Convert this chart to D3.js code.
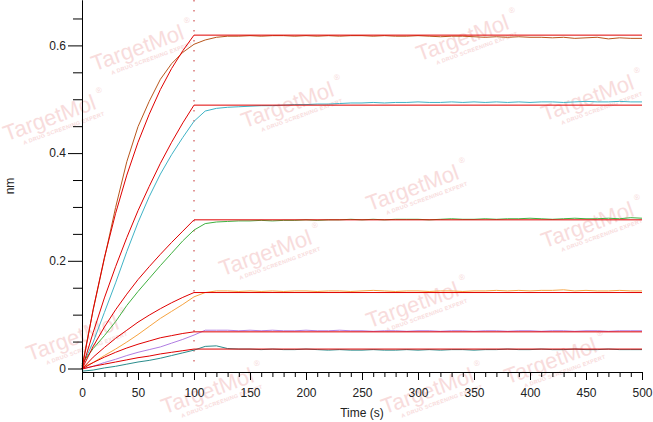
<!DOCTYPE html>
<html><head><meta charset="utf-8">
<script src="https://cdn.jsdelivr.net/npm/d3@7/dist/d3.min.js"></script>
<style>body{margin:0;background:#fff}svg{display:block}</style>
</head><body>
<svg id="c" width="653" height="422"></svg>
<script>
// ---- data ----
const times = [0,10,20,30,40,50,60,70,80,90,100,
  110,120,130,140,150,160,170,180,190,200,
  210,220,230,240,250,260,270,280,290,300,
  310,320,330,340,350,360,370,380,390,400,
  410,420,430,440,450,460,470,480,490,500];

const seriesBrown = [0.005,0.11,0.205,0.30,0.385,0.45,0.497,0.538,0.567,0.588,0.603,
  0.611,0.616,0.618,0.618,0.619,0.618,0.619,0.619,0.618,0.619,
  0.618,0.619,0.618,0.619,0.619,0.618,0.619,0.618,0.618,0.619,
  0.618,0.617,0.618,0.618,0.617,0.616,0.617,0.616,0.617,0.616,
  0.616,0.615,0.616,0.614,0.615,0.616,0.613,0.615,0.614,0.614];
const seriesCyan = [0.005,0.05,0.105,0.16,0.218,0.272,0.32,0.362,0.398,0.43,0.46,
  0.479,0.484,0.486,0.487,0.488,0.489,0.489,0.490,0.491,0.491,
  0.492,0.492,0.493,0.494,0.494,0.495,0.494,0.495,0.495,0.496,
  0.495,0.495,0.496,0.495,0.496,0.495,0.496,0.495,0.496,0.495,
  0.496,0.496,0.495,0.496,0.497,0.496,0.496,0.497,0.496,0.496];
const seriesGreen = [0.01,0.038,0.062,0.088,0.118,0.144,0.168,0.192,0.215,0.238,0.258,
  0.270,0.273,0.274,0.275,0.275,0.276,0.275,0.276,0.276,0.277,
  0.276,0.277,0.277,0.278,0.277,0.278,0.277,0.278,0.278,0.278,
  0.277,0.278,0.279,0.278,0.278,0.279,0.278,0.279,0.279,0.280,
  0.279,0.278,0.279,0.280,0.279,0.279,0.280,0.279,0.281,0.280];
const seriesOrange = [0.003,0.012,0.025,0.037,0.05,0.064,0.079,0.094,0.107,0.12,0.134,
  0.142,0.145,0.145,0.144,0.145,0.144,0.145,0.144,0.145,0.145,
  0.144,0.145,0.145,0.144,0.145,0.146,0.145,0.144,0.145,0.145,
  0.144,0.145,0.145,0.144,0.145,0.145,0.146,0.145,0.146,0.145,
  0.146,0.146,0.147,0.145,0.146,0.145,0.145,0.146,0.145,0.145];
const seriesPurple = [0.0,0.005,0.012,0.018,0.025,0.031,0.036,0.041,0.048,0.055,0.063,
  0.072,0.072,0.072,0.071,0.072,0.071,0.072,0.071,0.071,0.072,
  0.071,0.071,0.072,0.071,0.071,0.070,0.071,0.071,0.070,0.071,
  0.071,0.070,0.071,0.071,0.070,0.071,0.071,0.070,0.071,0.071,
  0.070,0.071,0.071,0.070,0.071,0.071,0.070,0.071,0.071,0.071];
const seriesTeal = [-0.004,-0.002,0.002,0.005,0.009,0.013,0.016,0.02,0.025,0.03,0.035,
  0.042,0.043,0.038,0.037,0.037,0.036,0.037,0.036,0.036,0.037,
  0.036,0.035,0.036,0.035,0.035,0.036,0.035,0.035,0.036,0.035,
  0.036,0.035,0.036,0.036,0.035,0.036,0.036,0.037,0.036,0.036,
  0.037,0.036,0.036,0.037,0.036,0.036,0.037,0.036,0.036,0.036];

const fitTimes = [0,10,20,30,40,50,60,70,80,90,100,500];
const fit1 = [0,0.111,0.207,0.289,0.36,0.421,0.473,0.519,0.558,0.591,0.62,0.62];
const fit2 = [0,0.068,0.132,0.19,0.244,0.294,0.339,0.382,0.421,0.457,0.49,0.49];
const fit3 = [0,0.042,0.078,0.11,0.139,0.166,0.19,0.213,0.235,0.256,0.277,0.277];
const fit4 = [0,0.022,0.04,0.057,0.072,0.087,0.1,0.112,0.123,0.133,0.142,0.142];
const fit5 = [0,0.012,0.022,0.031,0.039,0.046,0.052,0.058,0.062,0.066,0.069,0.069];
const fit6 = [0,0.005,0.009,0.013,0.017,0.021,0.024,0.028,0.031,0.034,0.037,0.037];

const xMajorTicks = [0,50,100,150,200,250,300,350,400,450,500];
const xTickLabels = ["0","50","100","150","200","250","300","350","400","450","500"];
const yMajorTicks = [0,0.2,0.4,0.6];
const yTickLabels = ["0","0.2","0.4","0.6"];
const stepTime = 100;
const xTitle = "Time (s)";
const yTitle = "nm";

// ---- drawing ----
const svg = d3.select("#c");
const font = "'Liberation Sans', Arial, sans-serif";
svg.append("rect").attr("width",653).attr("height",422).attr("fill","#fff");

// watermarks
const wm = [[140,55],[290,112],[465,45],[590,105],[52,125],[268,260],[415,195],[590,232],
            [75,345],[415,312],[553,368],[210,398],[430,398]];
wm.forEach(([cx,cy])=>{
  const g = svg.append("g").attr("transform",`translate(${cx},${cy}) rotate(-20)`)
    .attr("fill","#f8dcdc").attr("font-family",font);
  g.append("text").attr("text-anchor","middle").attr("font-size",22).text("TargetMol");
  g.append("text").attr("x",10).attr("y",9).attr("text-anchor","middle")
    .attr("font-size",5.5).attr("font-weight","bold").attr("letter-spacing",0.3)
    .text("A DRUG SCREENING EXPERT");
  g.append("text").attr("x",53).attr("y",-14).attr("font-size",8).text("®");
});

const x = d3.scaleLinear().domain([0,500]).range([82,642]);
const y = d3.scaleLinear().domain([0,0.6]).range([369,45.9]);
const yTop = y.invert(0), yBot = y.invert(372);
const yAx = d3.scaleLinear().domain([yBot,yTop]).range([372,0]);

// dotted step line
svg.append("line").attr("x1",x(stepTime)).attr("x2",x(stepTime))
  .attr("y1",0).attr("y2",369).attr("stroke","#c43030").attr("stroke-width",1)
  .attr("stroke-dasharray","1.5,8.5");

const line = d3.line().x(d=>x(d[0])).y(d=>y(d[1]));
const dataSeries = [
  [seriesBrown,"#b9561c"],[seriesCyan,"#3fb3c6"],[seriesGreen,"#3fb03f"],
  [seriesOrange,"#f6a340"],[seriesPurple,"#b07de2"],[seriesTeal,"#2a8c8c"]];
dataSeries.forEach(([vals,col])=>{
  svg.append("path").datum(times.map((t,i)=>[t,vals[i]]))
    .attr("d",line).attr("fill","none").attr("stroke",col).attr("stroke-width",1);
});
[fit1,fit2,fit3,fit4,fit5,fit6].forEach(vals=>{
  svg.append("path").datum(fitTimes.map((t,i)=>[t,vals[i]]))
    .attr("d",line).attr("fill","none").attr("stroke","#e00000").attr("stroke-width",1);
});

// axes
function styleAxis(g){
  g.selectAll("path,line").attr("stroke","#000").attr("stroke-width",1);
  g.selectAll("text").attr("font-family",font).attr("font-size",12).attr("fill","#222");
}
const xMinor = d3.range(0,501,10).filter(v=>v%50!==0);
svg.append("g").attr("transform","translate(0,372)")
  .call(d3.axisBottom(x).tickValues(xMinor).tickSize(5).tickSizeOuter(0).tickFormat(""))
  .call(styleAxis);
svg.append("g").attr("transform","translate(0,372)")
  .call(d3.axisBottom(x).tickValues(xMajorTicks).tickSize(8).tickSizeOuter(0).tickPadding(8)
    .tickFormat((d,i)=>xTickLabels[i]))
  .call(styleAxis);

const yMinor = [0.05,0.1,0.15,0.25,0.3,0.35,0.45,0.5,0.55,0.65];
svg.append("g").attr("transform","translate(82,0)")
  .call(d3.axisLeft(yAx).tickValues(yMinor).tickSize(9).tickSizeOuter(0).tickFormat(""))
  .call(g=>g.selectAll(".tick").attr("transform",d=>`translate(0,${y(d)})`))
  .call(styleAxis);
svg.append("g").attr("transform","translate(82,0)")
  .call(d3.axisLeft(yAx).tickValues(yMajorTicks).tickSize(14).tickSizeOuter(0).tickPadding(2)
    .tickFormat((d,i)=>yTickLabels[i]))
  .call(g=>g.selectAll(".tick").attr("transform",d=>`translate(0,${y(d)})`))
  .call(styleAxis);

svg.append("text").attr("x",362).attr("y",417).attr("text-anchor","middle")
  .attr("font-family",font).attr("font-size",12).attr("fill","#222").text(xTitle);
svg.append("text").attr("transform","translate(14,186) rotate(-90)").attr("text-anchor","middle")
  .attr("font-family",font).attr("font-size",12).attr("fill","#222").text(yTitle);
</script>
</body></html>
